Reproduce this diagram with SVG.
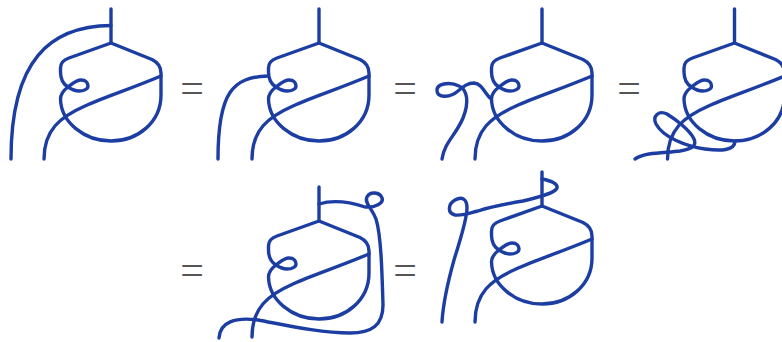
<svg xmlns="http://www.w3.org/2000/svg" width="782" height="342" viewBox="0 0 782 342">
<style>
.s{fill:none;stroke:#1c3ea3;stroke-width:3.4;stroke-linecap:round;stroke-linejoin:round}
.e{font-family:"Liberation Serif",serif;font-size:42px;fill:#555;text-anchor:middle}
</style>
<defs>
<g id="body">
<path class="s" d="M111,43 L152,59.5 Q161,64 161,73 V95 C161,122 138,141 111,141 C84,141 61,122 60.5,99 C60.5,93 64,90 68,87 C72,84 76,80 81,80 C86,80 88,83 88,86 C88,89 84,91 79,91 C74,91 71,89 68,87 C63,84 60.5,80 60.5,72 V68 C60.5,63 63,60 69,58 Z"/>
<path class="s" d="M161,76 C130,89 105,97 85,106 C60,117 44,130 44,159"/>
</g>
</defs>
<rect width="782" height="342" fill="#fff"/>
<g id="panel1"><use href="#body"/><path class="s" d="M111,9 V43"/></g>
<g id="panel2"><use href="#body" x="208"/><path class="s" d="M319,9 V43"/></g>
<g id="panel3"><use href="#body" x="431"/><path class="s" d="M542,9 V43"/></g>
<g id="panel4"><use href="#body" x="623.5"/><path class="s" d="M734.5,9 V43"/></g>
<g id="panel5"><use href="#body" x="208" y="178"/><path class="s" d="M319,187 V221"/></g>
<g id="panel6"><use href="#body" x="431" y="163"/><path class="s" d="M542,172 V206"/></g>
<g id="connectors">
<path class="s" d="M111,25.5 C50,26 11,60 11,159"/>
<path class="s" d="M268,76 C233,77 218,92 218,159"/>
<path class="s" d="M442,159 C444,143 456,135 463,118 C469,103 468,90 459,86 C449,81 436,84 437,91 C438,99 451,97 458,91 C464,86 468,83 474,83 C482,84 484,92 490,98"/>
<path class="s" d="M635,159 C645,152 665,153 680,151 C692,149 697,146 694,139 C690,130 675,119 667,114 C659,110 652,116 656,124 C663,137 685,146 705,149 C720,151 735,151 735,141"/>
<path class="s" d="M319,204 C335,199 350,202 365,207 C375,208 384,203 382,198 C380,192 370,191 367,197 C364,203 372,208 376,219 C381,235 382,270 383,305 C383,325 372,333 350,333 C320,333 285,325 258,320 C235,317 220,322 219,338"/>
<path class="s" d="M542,179 C552,181 558,184 557,188 C555,193 540,197 523,201 C505,204 490,207 478,211 C470,213 463,216 455,215 C447,213 448,204 455,200 C462,196 467,199 467,208 C467,220 460,240 454,260 C447,285 443,305 442,322"/>
</g>
<g id="equals">
<text class="e" x="192" y="102">=</text>
<text class="e" x="405" y="102">=</text>
<text class="e" x="629" y="102">=</text>
<text class="e" x="192" y="284">=</text>
<text class="e" x="405" y="284">=</text>
</g>
</svg>
